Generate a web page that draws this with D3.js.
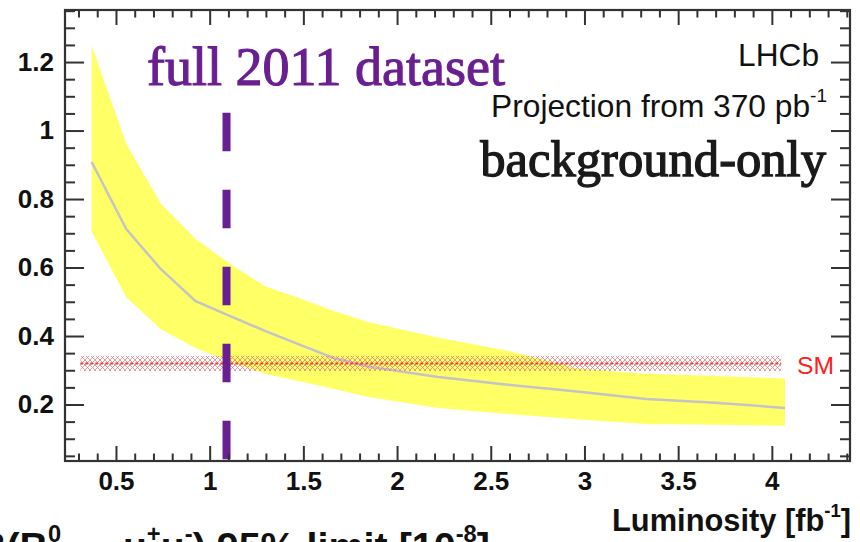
<!DOCTYPE html>
<html>
<head>
<meta charset="utf-8">
<script src="https://cdn.jsdelivr.net/npm/d3@7"></script>
<style>
  body { margin: 0; background: #fff; }
  svg { display: block; }
</style>
</head>
<body>
<svg id="chart" width="860" height="542"></svg>
<script>
// Integrated luminosity points of the projection [fb^-1]
const luminosity = [0.37, 0.555, 0.74, 0.925, 1.11, 1.295, 1.48, 1.665, 1.85, 2.22, 2.59, 2.96, 3.33, 3.7, 4.07];
// Median expected limit (grey line) [10^-8]
const medianLimit = [0.908, 0.712, 0.595, 0.502, 0.458, 0.415, 0.375, 0.335, 0.31, 0.28, 0.258, 0.238, 0.216, 0.205, 0.19];
// +-1 sigma band edges (yellow)
const bandHigh = [1.249, 0.961, 0.786, 0.683, 0.61, 0.545, 0.51, 0.472, 0.44, 0.395, 0.357, 0.305, 0.29, 0.283, 0.276];
const bandLow  = [0.705, 0.513, 0.42, 0.365, 0.325, 0.29, 0.268, 0.245, 0.222, 0.19, 0.172, 0.157, 0.143, 0.141, 0.138];
// Standard Model prediction and its uncertainty
const smValue = 0.32;
const smError = 0.022;
const smLumiRange = [0.31, 4.05];
// Luminosity collected in 2011
const lumi2011 = 1.09;
const lumi2011Top = 1.052;

const xMajor = [0.5, 1, 1.5, 2, 2.5, 3, 3.5, 4];
const yMajor = [0.2, 0.4, 0.6, 0.8, 1, 1.2];
const xMinor = d3.range(3, 45).filter(i => i % 5 !== 0).map(i => i / 10);
const yMinor = d3.range(1, 28).filter(i => i % 4 !== 0).map(i => i * 0.05);

const svg = d3.select("#chart");
const frame = { left: 65, top: 10, right: 850, bottom: 461 };

const x = d3.scaleLinear().domain([0.228, 4.417]).range([frame.left, frame.right]);
const y = d3.scaleLinear().domain([0.035, 1.352]).range([frame.bottom, frame.top]);

const SANS = "'Liberation Sans', Arial, Helvetica, sans-serif";
const SERIF = "'Liberation Serif', 'Times New Roman', serif";

// ---- yellow band ----
const idx = d3.range(luminosity.length);
svg.append("path")
  .datum(idx)
  .attr("fill", "#ffff66")
  .attr("d", d3.area()
    .x(i => x(luminosity[i]))
    .y0(i => y(bandLow[i]))
    .y1(i => y(bandHigh[i])));

// ---- median line ----
svg.append("path")
  .datum(idx)
  .attr("fill", "none")
  .attr("stroke", "#c4c4c4")
  .attr("stroke-width", 2.5)
  .attr("d", d3.line().x(i => x(luminosity[i])).y(i => y(medianLimit[i])));

// ---- SM band (hatched) ----
const defs = svg.append("defs");
const pat = defs.append("pattern")
  .attr("id", "smHatch")
  .attr("patternUnits", "userSpaceOnUse")
  .attr("width", 5).attr("height", 5);
pat.append("path").attr("d", "M0,0 L5,5 M5,0 L0,5")
  .attr("stroke", "#e07a7a").attr("stroke-width", 1).attr("stroke-opacity", 0.75);

svg.append("rect")
  .attr("x", x(smLumiRange[0]))
  .attr("width", x(smLumiRange[1]) - x(smLumiRange[0]))
  .attr("y", y(smValue + smError))
  .attr("height", y(smValue - smError) - y(smValue + smError))
  .attr("fill", "url(#smHatch)");
svg.append("line")
  .attr("x1", x(smLumiRange[0])).attr("x2", x(smLumiRange[1]))
  .attr("y1", y(smValue)).attr("y2", y(smValue))
  .attr("stroke", "#ff2a2a").attr("stroke-width", 2)
  .attr("stroke-dasharray", "2.5,2.5");

// ---- 2011 dataset marker ----
svg.append("line")
  .attr("x1", x(lumi2011)).attr("x2", x(lumi2011))
  .attr("y1", y(lumi2011Top)).attr("y2", frame.bottom)
  .attr("stroke", "#6a1f91").attr("stroke-width", 8)
  .attr("stroke-dasharray", "38.5,38.5");

// ---- axes ----
const axisColor = "#333";
function styleAxis(g) {
  g.select(".domain").remove();
  g.selectAll(".tick line").attr("stroke", axisColor).attr("stroke-width", 2);
  g.selectAll(".tick text")
    .attr("fill", "#111")
    .attr("font-family", SANS)
    .attr("font-weight", "bold")
    .attr("font-size", 26);
}
const fmt = d => String(+d.toFixed(2));

svg.append("g").attr("transform", `translate(0,${frame.bottom})`)
  .call(d3.axisBottom(x).tickValues(xMajor).tickSize(-15).tickPadding(11).tickFormat(fmt))
  .call(styleAxis);
svg.append("g").attr("transform", `translate(0,${frame.bottom})`)
  .call(d3.axisBottom(x).tickValues(xMinor).tickSize(-7.5).tickFormat(""))
  .call(styleAxis);
svg.append("g").attr("transform", `translate(0,${frame.top})`)
  .call(d3.axisTop(x).tickValues(xMajor).tickSize(-15).tickFormat(""))
  .call(styleAxis);
svg.append("g").attr("transform", `translate(0,${frame.top})`)
  .call(d3.axisTop(x).tickValues(xMinor).tickSize(-7.5).tickFormat(""))
  .call(styleAxis);

svg.append("g").attr("transform", `translate(${frame.left},0)`)
  .call(d3.axisLeft(y).tickValues(yMajor).tickSize(-19).tickPadding(11).tickFormat(fmt))
  .call(styleAxis);
svg.append("g").attr("transform", `translate(${frame.left},0)`)
  .call(d3.axisLeft(y).tickValues(yMinor).tickSize(-10).tickFormat(""))
  .call(styleAxis);
svg.append("g").attr("transform", `translate(${frame.right},0)`)
  .call(d3.axisRight(y).tickValues(yMajor).tickSize(-19).tickFormat(""))
  .call(styleAxis);
svg.append("g").attr("transform", `translate(${frame.right},0)`)
  .call(d3.axisRight(y).tickValues(yMinor).tickSize(-10).tickFormat(""))
  .call(styleAxis);

svg.append("rect")
  .attr("x", frame.left).attr("y", frame.top)
  .attr("width", frame.right - frame.left).attr("height", frame.bottom - frame.top)
  .attr("fill", "none").attr("stroke", axisColor).attr("stroke-width", 2.2);

// ---- text helpers ----
function fitWidth(sel, width) {
  const w = sel.node().getComputedTextLength();
  const fs = parseFloat(sel.attr("font-size"));
  sel.attr("font-size", fs * width / w);
  return sel;
}

// Axis title (x)
const xt = svg.append("text")
  .attr("x", 851).attr("y", 531).attr("text-anchor", "end")
  .attr("font-family", SANS).attr("font-weight", "bold").attr("font-size", 28).attr("fill", "#111");
xt.append("tspan").text("Luminosity [fb");
xt.append("tspan").attr("font-size", "0.6em").attr("dy", "-0.75em").text("-1");
xt.append("tspan").attr("dy", "0.45em").text("]");
fitWidth(xt, 239);

// Axis title (y), running along the bottom edge of the page
const yt = svg.append("text")
  .attr("x", -22).attr("y", 560)
  .attr("font-family", SANS).attr("font-weight", "bold").attr("font-size", 40).attr("fill", "#111");
yt.append("tspan").text("B(B");
const sup0 = yt.append("tspan").attr("font-size", "0.6em").attr("dy", "-0.75em").text("0");
yt.append("tspan").attr("font-size", "0.6em").attr("dx", "-0.556em").attr("dy", "1.6em").text("s");
yt.append("tspan").attr("dy", "-0.51em").text(" \u2192 \u03bc");
yt.append("tspan").attr("font-size", "0.6em").attr("dy", "-0.75em").text("+");
yt.append("tspan").attr("dy", "0.45em").text("\u03bc");
yt.append("tspan").attr("font-size", "0.6em").attr("dy", "-0.75em").text("-");
yt.append("tspan").attr("dy", "0.45em").text(") 95% limit [10");
yt.append("tspan").attr("font-size", "0.6em").attr("dy", "-0.75em").text("-8");
yt.append("tspan").attr("dy", "0.45em").text("]");
fitWidth(yt, 525);

// "full 2011 dataset"
const ft = svg.append("text")
  .attr("x", 147).attr("y", 85)
  .attr("font-family", SERIF).attr("font-size", 44)
  .attr("fill", "#6a1f91").attr("stroke", "#6a1f91").attr("stroke-width", 1.1)
  .text("full 2011 dataset");
fitWidth(ft, 358);

// LHCb
const lt = svg.append("text")
  .attr("x", 819).attr("y", 66).attr("text-anchor", "end")
  .attr("font-family", SANS).attr("font-size", 28).attr("fill", "#111").text("LHCb");
fitWidth(lt, 81);

// Projection
const pt = svg.append("text")
  .attr("x", 827).attr("y", 117).attr("text-anchor", "end")
  .attr("font-family", SANS).attr("font-size", 28).attr("fill", "#111");
pt.append("tspan").text("Projection from 370 pb");
pt.append("tspan").attr("font-size", "0.6em").attr("dy", "-0.8em").text("-1");
fitWidth(pt, 336);

// background-only
const bt = svg.append("text")
  .attr("x", 826).attr("y", 176).attr("text-anchor", "end")
  .attr("font-family", SERIF).attr("font-size", 44)
  .attr("fill", "#1a1a1a").attr("stroke", "#1a1a1a").attr("stroke-width", 1.3)
  .text("background-only");
fitWidth(bt, 346);

// SM label
const st = svg.append("text")
  .attr("x", 797).attr("y", 374)
  .attr("font-family", SANS).attr("font-size", 25).attr("fill", "#ff2020").text("SM");
fitWidth(st, 37);
</script>
</body>
</html>
